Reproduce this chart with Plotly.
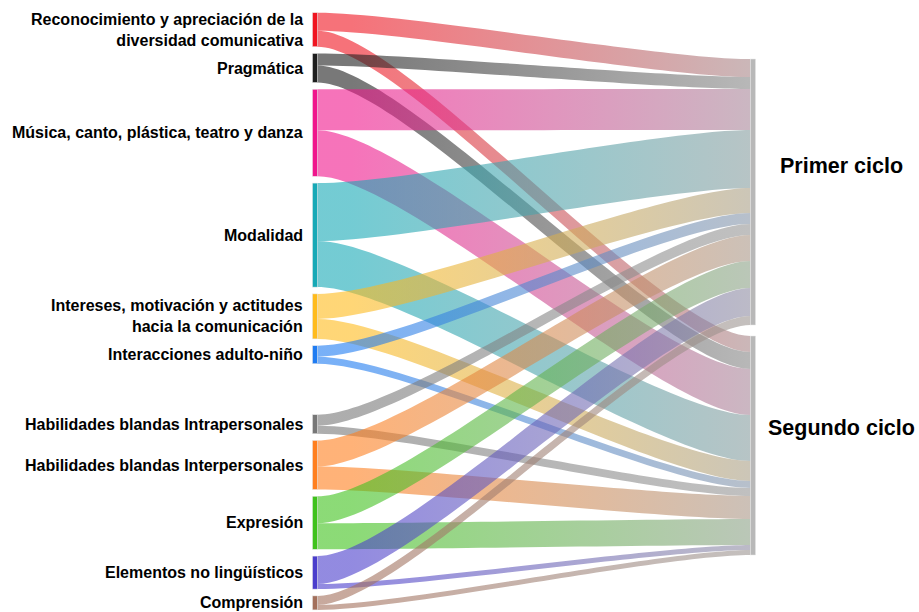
import plotly.graph_objects as go

# --- data ---------------------------------------------------------------
categorias = [
    "Reconocimiento y apreciación de la<br>diversidad comunicativa",
    "Pragmática",
    "Música, canto, plástica, teatro y danza",
    "Modalidad",
    "Intereses, motivación y actitudes<br>hacia la comunicación",
    "Interacciones adulto-niño",
    "Habilidades blandas Intrapersonales",
    "Habilidades blandas Interpersonales",
    "Expresión",
    "Elementos no lingüísticos",
    "Comprensión",
]
ciclos = ["Primer ciclo", "Segundo ciclo"]
primer_ciclo = [18, 12, 41, 58, 25, 11, 11, 26, 27, 28, 9]
segundo_ciclo = [16, 17, 46, 46, 20, 7, 8, 23, 26, 5, 5]

colores = ["#f01420", "#1e1e1e", "#f0168c", "#17a9b6", "#ffbb1c", "#1f7cf2",
           "#777777", "#ff7f1e", "#3fc21c", "#4a3dcc", "#a3705c"]
color_ciclo = "#b8b8b8"

# --- layout constants (pixels) -----------------------------------------
W, H_FIG = 919, 612
M_TOP, M_BOT = 12, 5
H = H_FIG - M_TOP - M_BOT
X_LEFT, X_RIGHT = 315, 753
TOP_LEFT, TOP_RIGHT = 12.7, 59
GAP = 6.8
BIG_GAP_AFTER = 5          # extra space below "Interacciones adulto-niño"
BIG_GAP = 51
RIGHT_GAP = 11
PAD = 11                   # with 11 nodes -> 1 px per unit
CURVATURE = 0.2            # links are mostly straight with short bends


def hex_rgba(h, a):
    h = h.lstrip("#")
    r, g, b = (int(h[i:i + 2], 16) for i in (0, 2, 4))
    return f"rgba({r},{g},{b},{a})"


totales = [p + s for p, s in zip(primer_ciclo, segundo_ciclo)]
ky = (H - (len(categorias) - 1) * PAD) / sum(totales)

# left column centres
centros = []
y = TOP_LEFT
for i, t in enumerate(totales):
    h = t * ky
    centros.append(y + h / 2)
    y += h + (BIG_GAP if i == BIG_GAP_AFTER else GAP)

# right column centres
tot_ciclos = [sum(primer_ciclo), sum(segundo_ciclo)]
centros_der = []
y = TOP_RIGHT
for t in tot_ciclos:
    h = t * ky
    centros_der.append(y + h / 2)
    y += h + RIGHT_GAP

n = len(categorias)
node_x = [X_LEFT / W] * n + [X_RIGHT / W] * 2
node_y = [(c - M_TOP) / H for c in centros + centros_der]

sources, targets, values, link_colors = [], [], [], []
for i in range(n):
    for j, vals in enumerate((primer_ciclo, segundo_ciclo)):
        sources.append(i)
        targets.append(n + j)
        values.append(vals[i])
        link_colors.append(hex_rgba(colores[i], 0.6))

fig = go.Figure(go.Sankey(
    arrangement="fixed",
    node=dict(
        label=[""] * (n + 2),
        x=node_x,
        y=node_y,
        pad=PAD,
        thickness=5,
        color=colores + [color_ciclo, color_ciclo],
        line=dict(width=0.5, color="#e6e6e6"),
    ),
    link=dict(source=sources, target=targets, value=values, color=link_colors),
    hoverinfo="none",
))

label_font = dict(family="Liberation Sans, Arial, sans-serif", size=16,
                  color="black", weight="bold")
for txt, c in zip(categorias, centros):
    fig.add_annotation(
        text=txt, x=305 / W, y=1 - (c - M_TOP) / H, xref="paper", yref="paper",
        xanchor="right", yanchor="middle", align="right",
        showarrow=False, font=label_font,
    )

# cycle labels sit a little above the node centres
ciclo_offsets = [-26, -18]
for txt, c, off in zip(ciclos, centros_der, ciclo_offsets):
    fig.add_annotation(
        text=txt, x=841 / W, y=1 - (c + off - M_TOP) / H, xref="paper", yref="paper",
        xanchor="center", yanchor="middle", showarrow=False,
        font=dict(family="Liberation Sans, Arial, sans-serif", size=21.5,
                  color="black", weight="bold"),
    )

fig.update_layout(
    width=W, height=H_FIG,
    margin=dict(l=0, r=0, t=M_TOP, b=M_BOT),
    paper_bgcolor="white",
    plot_bgcolor="white",
)

# page without body margin; flatter link curves; links fade to grey
post_js = """
document.body.style.margin = '0';
var gd = document.getElementById('{plot_id}');
var ns = 'http://www.w3.org/2000/svg';
var svg = gd.querySelector('svg.main-svg');
var defs = svg.querySelector('defs');
if (!defs) { defs = document.createElementNS(ns, 'defs'); svg.insertBefore(defs, svg.firstChild); }
var grey = [155, 155, 155];
var curv = %CURV%;
gd.querySelectorAll('path.sankey-link').forEach(function(p, i) {
  var nums = (p.getAttribute('d') || '').match(/-?\\d*\\.?\\d+(?:e[-+]?\\d+)?/gi);
  if (nums && nums.length === 16) {
    nums = nums.map(Number);
    var x0 = nums[0], y0a = nums[1], x1 = nums[6], y1a = nums[7], y1b = nums[9], y0b = nums[15];
    var x2 = x0 + curv * (x1 - x0), x3 = x1 - curv * (x1 - x0);
    p.setAttribute('d', 'M' + x0 + ',' + y0a + 'C' + x2 + ',' + y0a + ' ' + x3 + ',' + y1a + ' ' + x1 + ',' + y1a +
      'L' + x1 + ',' + y1b + 'C' + x3 + ',' + y1b + ' ' + x2 + ',' + y0b + ' ' + x0 + ',' + y0b + 'Z');
  }
  var cs = window.getComputedStyle(p);
  var m = cs.fill.match(/[0-9.]+/g);
  if (!m) return;
  var src = [+m[0], +m[1], +m[2]];
  var op = cs.fillOpacity;
  var end = src.map(function(v, k) { return Math.round(0.85 * grey[k] + 0.15 * v); });
  var g = document.createElementNS(ns, 'linearGradient');
  g.setAttribute('id', 'lg' + i);
  g.setAttribute('x1', '0'); g.setAttribute('x2', '1');
  g.setAttribute('y1', '0'); g.setAttribute('y2', '0');
  [[0, src], [0.08, src], [1, end]].forEach(function(s) {
    var st = document.createElementNS(ns, 'stop');
    st.setAttribute('offset', s[0]);
    st.setAttribute('stop-color', 'rgb(' + s[1].join(',') + ')');
    st.setAttribute('stop-opacity', op);
    g.appendChild(st);
  });
  defs.appendChild(g);
  p.style.fill = 'url(#lg' + i + ')';
  p.style.fillOpacity = 1;
});
""".replace("%CURV%", str(CURVATURE))

fig.write_html("out.html", post_script=post_js, config={"displayModeBar": False})
